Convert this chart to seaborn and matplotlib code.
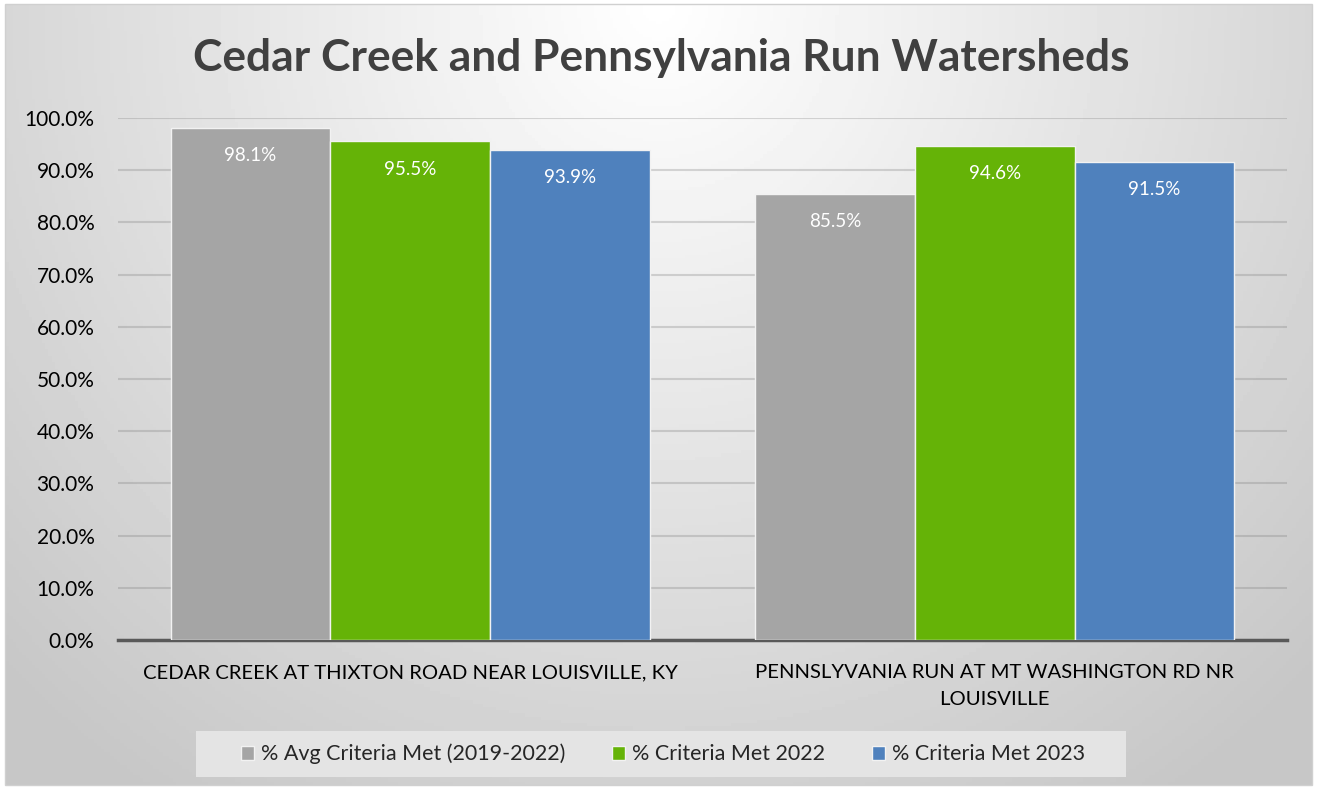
import numpy as np
import pandas as pd
import seaborn as sns
import matplotlib.pyplot as plt
from matplotlib.patches import Rectangle

sites = ["CEDAR CREEK AT THIXTON ROAD NEAR LOUISVILLE, KY",
         "PENNSLYVANIA RUN AT MT WASHINGTON RD NR\nLOUISVILLE"]
series = ["% Avg Criteria Met (2019-2022)", "% Criteria Met 2022", "% Criteria Met 2023"]
avg_2019_2022 = [98.1, 85.5]
met_2022 = [95.5, 94.6]
met_2023 = [93.9, 91.5]
colors = ["#a5a5a5", "#65b307", "#4f81bd"]

df = pd.DataFrame({
    "site": sites * 3,
    "series": [series[0]] * 2 + [series[1]] * 2 + [series[2]] * 2,
    "value": [v / 100 for v in avg_2019_2022 + met_2022 + met_2023],
})

sns.set_theme(style="white")
plt.rcParams["font.family"] = ["Lato", "DejaVu Sans"]

W, H = 1318, 789
fig = plt.figure(figsize=(W / 100, H / 100), dpi=100)
fig.patch.set_facecolor("white")

# radial gradient background of the chart area
bg = fig.add_axes([6 / W, 4 / H, 1306 / W, 780 / H])
xx, yy = np.meshgrid(np.linspace(-1, 1, 400), np.linspace(0, 1, 240))
r = np.sqrt(xx ** 2 + (yy * 1.15) ** 2)
shade = 1.0 - 0.22 * np.clip(r / 1.4, 0, 1)
bg.imshow(shade, cmap="gray", vmin=0, vmax=1, aspect="auto", extent=[0, 1, 1, 0])
bg.set_axis_off()
fig.add_artist(Rectangle((5 / W, 4 / H), 1307 / W, 781 / H, transform=fig.transFigure,
                         fill=False, edgecolor="#d0d0d0", linewidth=1))

ax = fig.add_axes([118 / W, 1 - 640 / H, (1287 - 118) / W, (640 - 118) / H])
ax.set_facecolor("none")
sns.barplot(data=df, x="site", y="value", hue="series", palette=colors, width=0.82,
            saturation=1, edgecolor="#f2f2f2", linewidth=1, ax=ax, legend=True, zorder=3)

for cont, vals in zip(ax.containers, [avg_2019_2022, met_2022, met_2023]):
    ax.bar_label(cont, labels=[f"{v:.1f}%" for v in vals], padding=-26, color="white",
                 fontsize=13.5)

ticks = np.arange(0, 1.01, 0.1)
ax.set_ylim(0, 1.0)
ax.set_yticks(ticks)
ax.set_yticklabels([f"{t * 100:.1f}%" for t in ticks])
ax.yaxis.grid(True, color="#7f7f7f", alpha=0.3, linewidth=1.5, zorder=0)
ax.set_axisbelow(True)
ax.tick_params(axis="y", length=0, pad=17, labelsize=15, labelcolor="#000000")
ax.tick_params(axis="x", length=0, pad=17.5, labelsize=14.6, labelcolor="#000000")
for s in ["top", "right", "left"]:
    ax.spines[s].set_visible(False)
ax.spines["bottom"].set_color("#595959")
ax.spines["bottom"].set_linewidth(2.5)
ax.set_xlabel("")
ax.set_ylabel("")
for lbl in ax.get_xticklabels():
    lbl.set_linespacing(1.68)

fig.text(661 / W, 1 - 58 / H, "Cedar Creek and Pennsylvania Run Watersheds", ha="center",
         va="center", fontsize=31.9, fontweight="bold", color="#404040")

# legend box
fig.add_artist(Rectangle((196 / W, 1 - 777 / H), 930 / W, 46 / H, transform=fig.transFigure,
                         facecolor="#e4e4e4", edgecolor="none", zorder=1))
handles, labels = ax.get_legend_handles_labels()
ax.get_legend().remove()
leg = fig.legend(handles, labels, loc="center", bbox_to_anchor=(663 / W, 1 - 754 / H),
                 ncol=3, frameon=False, fontsize=15.5, handlelength=0.6, handleheight=0.6,
                 handletextpad=0.3, columnspacing=2.2)
leg.set_zorder(2)

fig.savefig("out.png", dpi=100)
